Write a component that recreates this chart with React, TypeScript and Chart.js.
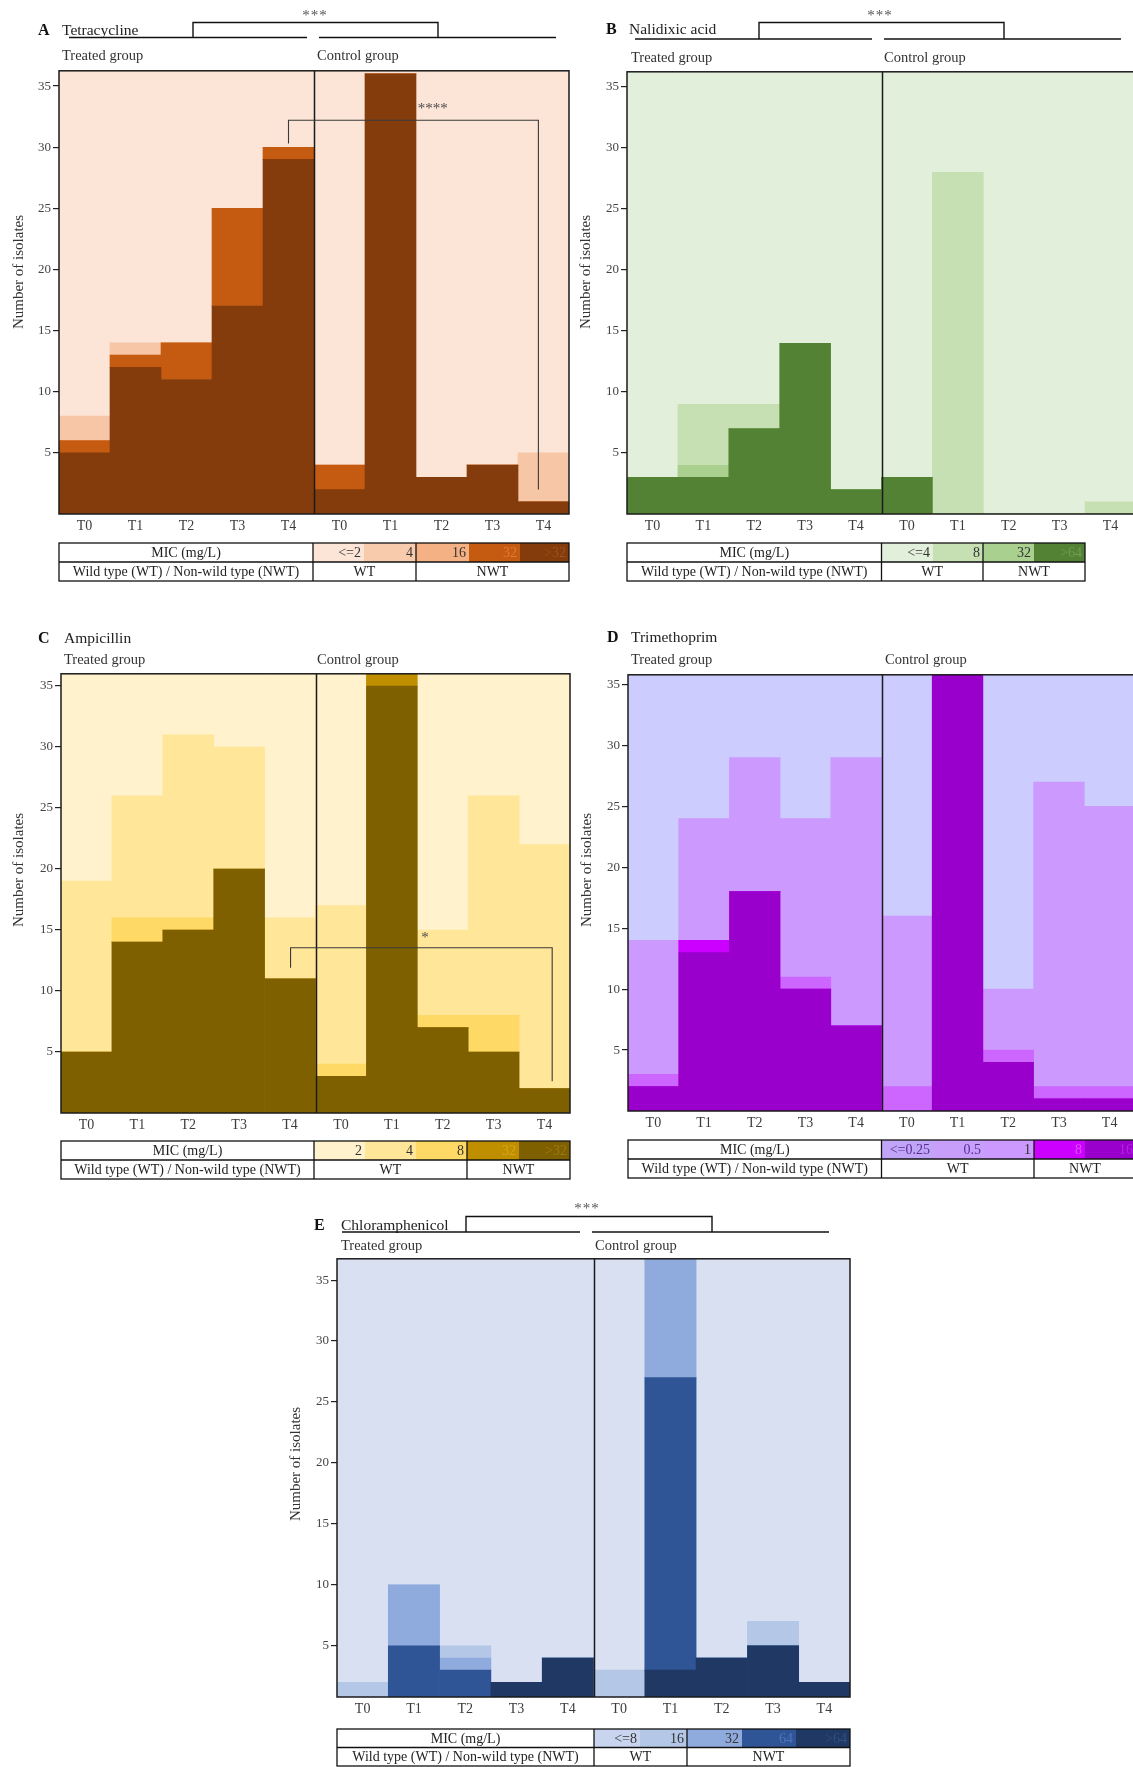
import React, { useEffect, useRef } from 'react';
import { Chart, registerables } from 'chart.js';

Chart.register(...registerables);

const FONT = '"Liberation Serif", "Times New Roman", serif';

// ---------- shared ----------
const timeLabels = ['T0', 'T1', 'T2', 'T3', 'T4', 'T0', 'T1', 'T2', 'T3', 'T4'];
const yTickValues = [5, 10, 15, 20, 25, 30, 35];

// ---------- A Tetracycline (stack order: bottom -> top) ----------
const tetGt32 = [5, 12, 11, 17, 29, 2, 36, 3, 4, 1];
const tet32 = [1, 1, 3, 8, 1, 2, 0, 0, 0, 0];
const tet16 = [0, 0, 0, 0, 0, 0, 0, 0, 0, 0];
const tet4 = [2, 1, 0, 0, 0, 0, 0, 0, 0, 4];
const tetLe2 = [28, 22, 22, 11, 6, 32, 0, 33, 32, 31];
const tetLegend = ['<=2', '4', '16', '32', '>32'];

// ---------- B Nalidixic acid ----------
const nalGt64 = [3, 3, 7, 14, 2, 3, 0, 0, 0, 0];
const nal32 = [0, 1, 0, 0, 0, 0, 0, 0, 0, 0];
const nal8 = [0, 5, 2, 0, 0, 0, 28, 0, 0, 1];
const nalLe4 = [33, 27, 27, 22, 34, 33, 8, 36, 36, 35];
const nalLegend = ['<=4', '8', '32', '>64'];

// ---------- C Ampicillin ----------
const ampGt32 = [5, 14, 15, 20, 11, 3, 35, 7, 5, 2];
const amp32 = [0, 0, 0, 0, 0, 0, 1, 0, 0, 0];
const amp8 = [0, 2, 1, 0, 0, 1, 0, 1, 3, 0];
const amp4 = [14, 10, 15, 10, 5, 13, 0, 7, 18, 20];
const amp2 = [17, 10, 5, 6, 20, 19, 0, 21, 10, 14];
const ampLegend = ['2', '4', '8', '32', '>32'];

// ---------- D Trimethoprim ----------
const tmp16 = [2, 13, 18, 10, 7, 0, 36, 4, 1, 1];
const tmp8 = [0, 1, 0, 0, 0, 0, 0, 0, 0, 0];
const tmp1 = [1, 0, 0, 1, 0, 2, 0, 1, 1, 1];
const tmp05 = [11, 10, 11, 13, 22, 14, 0, 5, 25, 23];
const tmpLe025 = [22, 12, 7, 12, 7, 20, 0, 26, 9, 11];
const tmpLegend = ['<=0.25', '0.5', '1', '8', '16'];

// ---------- E Chloramphenicol ----------
const chlGt64 = [0, 0, 0, 2, 4, 0, 3, 4, 5, 2];
const chl64 = [0, 5, 3, 0, 0, 0, 24, 0, 0, 0];
const chl32 = [0, 5, 1, 0, 0, 0, 10, 0, 0, 0];
const chl16 = [2, 0, 1, 0, 0, 3, 0, 0, 2, 0];
const chlLe8 = [34, 26, 31, 34, 32, 33, 0, 32, 29, 34];
const chlLegend = ['<=8', '16', '32', '64', '>64'];

// ---------- layout constants ----------
const AXW = 48;
const PADT = 4;
const PADR = 3;
const XAH = 28;

type Series = { label: string; data: number[]; color: string };
type Bracket = { from: number; to: number; y: number; fromDrop: number; toDrop: number; label: string; labelX: number; labelY: number };
type PanelCfg = {
  key: string;
  plot: { left: number; top: number; width: number; height: number };
  yMin: number;
  yMax: number;
  series: Series[];
  bg: string;
  bracket?: Bracket;
};

const panels: PanelCfg[] = [
  {
    key: 'A',
    plot: { left: 59, top: 65, width: 510, height: 449 },
    yMin: 0, yMax: 36.25, bg: '#fce4d6',
    series: [
      { label: '>32', data: tetGt32, color: '#843c0c' },
      { label: '32', data: tet32, color: '#c55a11' },
      { label: '16', data: tet16, color: '#f4b183' },
      { label: '4', data: tet4, color: '#f7c6a6' },
      { label: '<=2', data: tetLe2, color: '#fce4d6' },
    ],
    bracket: { from: 4.0, to: 8.9, y: 32.2, fromDrop: 30.3, toDrop: 2.0, label: '****', labelX: 6.83, labelY: 33.1 },
  },
  {
    key: 'B',
    plot: { left: 627, top: 66, width: 509, height: 448 },
    yMin: 0, yMax: 36.25, bg: '#e2efda',
    series: [
      { label: '>64', data: nalGt64, color: '#548235' },
      { label: '32', data: nal32, color: '#a9d08e' },
      { label: '8', data: nal8, color: '#c6e0b4' },
      { label: '<=4', data: nalLe4, color: '#e2efda' },
    ],
  },
  {
    key: 'C',
    plot: { left: 61, top: 668, width: 509, height: 445 },
    yMin: 0, yMax: 36, bg: '#fff2cc',
    series: [
      { label: '>32', data: ampGt32, color: '#7f6000' },
      { label: '32', data: amp32, color: '#bf8f00' },
      { label: '8', data: amp8, color: '#ffd966' },
      { label: '4', data: amp4, color: '#ffe699' },
      { label: '2', data: amp2, color: '#fff2cc' },
    ],
    bracket: { from: 4.01, to: 9.15, y: 13.55, fromDrop: 11.9, toDrop: 2.6, label: '*', labelX: 6.65, labelY: 14.3 },
  },
  {
    key: 'D',
    plot: { left: 628, top: 669, width: 507, height: 442 },
    yMin: 0, yMax: 35.8, bg: '#ccccff',
    series: [
      { label: '16', data: tmp16, color: '#9900cc' },
      { label: '8', data: tmp8, color: '#cc00ff' },
      { label: '1', data: tmp1, color: '#cc66ff' },
      { label: '0.5', data: tmp05, color: '#cc99ff' },
      { label: '<=0.25', data: tmpLe025, color: '#ccccff' },
    ],
  },
  {
    key: 'E',
    plot: { left: 337, top: 1253, width: 513, height: 444 },
    yMin: 0.8, yMax: 36.75, bg: '#d9e0f2',
    series: [
      { label: '>64', data: chlGt64, color: '#1f3864' },
      { label: '64', data: chl64, color: '#2f5597' },
      { label: '32', data: chl32, color: '#8faadc' },
      { label: '16', data: chl16, color: '#b4c7e7' },
      { label: '<=8', data: chlLe8, color: '#d9e0f2' },
    ],
  },
];

const makePlugin = (cfg: PanelCfg) => ({
  id: 'frame' + cfg.key,
  beforeDatasetsDraw(chart: any) {
    const { ctx, chartArea: a } = chart;
    ctx.save();
    ctx.fillStyle = cfg.bg;
    ctx.fillRect(a.left, a.top, a.right - a.left, a.bottom - a.top);
    ctx.restore();
  },
  afterDatasetsDraw(chart: any) {
    const { ctx, chartArea: a, scales } = chart;
    const x = scales.x;
    const y = scales.y;
    ctx.save();
    ctx.strokeStyle = '#1b1b1b';
    ctx.lineWidth = 1.5;
    ctx.strokeRect(a.left, a.top, a.right - a.left, a.bottom - a.top);
    const dx = Math.round((x.getPixelForValue(4) + x.getPixelForValue(5)) / 2) + 0.5;
    ctx.beginPath();
    ctx.moveTo(dx, a.top);
    ctx.lineTo(dx, a.bottom);
    ctx.stroke();
    const b = cfg.bracket;
    if (b) {
      const x1 = x.getPixelForValue(b.from);
      const x2 = x.getPixelForValue(b.to);
      ctx.strokeStyle = '#3a3a3a';
      ctx.lineWidth = 1.1;
      ctx.beginPath();
      ctx.moveTo(x1, y.getPixelForValue(b.fromDrop));
      ctx.lineTo(x1, y.getPixelForValue(b.y));
      ctx.lineTo(x2, y.getPixelForValue(b.y));
      ctx.lineTo(x2, y.getPixelForValue(b.toDrop));
      ctx.stroke();
      ctx.fillStyle = '#4a4a4a';
      ctx.font = `15px ${FONT}`;
      ctx.textAlign = 'center';
      ctx.textBaseline = 'middle';
      ctx.fillText(b.label, x.getPixelForValue(b.labelX), y.getPixelForValue(b.labelY));
    }
    ctx.restore();
  },
});

function PanelChart({ cfg }: { cfg: PanelCfg }) {
  const ref = useRef<HTMLCanvasElement>(null);
  const w = AXW + cfg.plot.width + PADR;
  const h = PADT + cfg.plot.height + XAH;
  useEffect(() => {
    const canvas = ref.current!;
    const chart = new Chart(canvas, {
      type: 'bar',
      data: {
        labels: timeLabels,
        datasets: cfg.series.map((s) => ({
          label: s.label,
          data: s.data,
          backgroundColor: s.color,
          borderWidth: 0,
          barPercentage: 1,
          categoryPercentage: 1,
          stack: 'mic',
        })),
      },
      options: {
        responsive: false,
        animation: false,
        devicePixelRatio: 1,
        layout: { padding: { top: PADT, right: PADR, left: 0, bottom: 0 } },
        plugins: { legend: { display: false }, tooltip: { enabled: false }, title: { display: false } },
        scales: {
          x: {
            stacked: true,
            grid: { display: false, drawTicks: false },
            border: { display: false },
            ticks: { color: '#3c3c3c', font: { family: FONT, size: 14 }, padding: 4, maxRotation: 0, autoSkip: false },
            afterFit: (s: any) => { s.height = XAH; },
          },
          y: {
            stacked: true,
            min: cfg.yMin,
            max: cfg.yMax,
            afterBuildTicks: (s: any) => { s.ticks = yTickValues.map((v) => ({ value: v })); },
            grid: { display: true, drawOnChartArea: false, drawTicks: true, tickLength: 6, color: '#222', lineWidth: 1.2 },
            border: { display: false },
            ticks: { color: '#444', font: { family: FONT, size: 13 }, padding: 2 },
            afterFit: (s: any) => { s.width = AXW; },
          },
        },
      },
      plugins: [makePlugin(cfg)],
    } as any);
    return () => chart.destroy();
  }, []);
  return (
    <div style={{ position: 'absolute', left: cfg.plot.left - AXW, top: cfg.plot.top - PADT, width: w, height: h }}>
      <canvas ref={ref} width={w} height={h} style={{ width: w, height: h, display: 'block' }} />
    </div>
  );
}

// ---------- tables ----------
type TableCfg = {
  left: number; split: number; top: number; rowH: number;
  edges: number[]; wtEdge: number; labels: string[]; fills: string[]; textColors: string[];
};

const tables: TableCfg[] = [
  { left: 59, split: 313, top: 543, rowH: 19, edges: [313, 364, 416, 469, 520, 569], wtEdge: 416, labels: tetLegend,
    fills: ['#fce4d6', '#f8cbad', '#f4b183', '#c55a11', '#843c0c'], textColors: ['#333', '#333', '#333', '#dd7a36', '#a0501c'] },
  { left: 627, split: 881.5, top: 543, rowH: 19, edges: [881.5, 933, 983, 1034, 1085], wtEdge: 983, labels: nalLegend,
    fills: ['#e2efda', '#c6e0b4', '#a9d08e', '#548235'], textColors: ['#333', '#333', '#333', '#6e9e4f'] },
  { left: 61, split: 314, top: 1141, rowH: 19, edges: [314, 365, 416, 467, 519, 570], wtEdge: 467, labels: ampLegend,
    fills: ['#fff2cc', '#ffe699', '#ffd966', '#bf8f00', '#7f6000'], textColors: ['#333', '#333', '#333', '#d9a520', '#9b7a10'] },
  { left: 628, split: 881.5, top: 1140, rowH: 19, edges: [881.5, 933, 984, 1034, 1085, 1136], wtEdge: 1034, labels: tmpLegend,
    fills: ['#c0a4f5', '#c79ffb', '#cc99ff', '#cc00ff', '#9900cc'], textColors: ['#5b2d99', '#5b2d99', '#333', '#e24dff', '#b323e6'] },
  { left: 337, split: 594, top: 1729, rowH: 18.5, edges: [594, 640, 687, 742, 796, 850], wtEdge: 687, labels: chlLegend,
    fills: ['#c9d5ef', '#b4c7e7', '#8faadc', '#2f5597', '#1f3864'], textColors: ['#333', '#333', '#333', '#4f74bb', '#33507f'] },
];

function MicTable({ t }: { t: TableCfg }) {
  const right = t.edges[t.edges.length - 1];
  const r1 = t.top + t.rowH / 2;
  const r2 = t.top + t.rowH * 1.5;
  const fs = 14;
  return (
    <g fontFamily={FONT} fontSize={fs}>
      {t.labels.map((lab, i) => (
        <g key={i}>
          <rect x={t.edges[i]} y={t.top} width={t.edges[i + 1] - t.edges[i]} height={t.rowH} fill={t.fills[i]} />
          <text x={t.edges[i + 1] - 3} y={r1} textAnchor="end" dominantBaseline="central" fill={t.textColors[i]}>{lab}</text>
        </g>
      ))}
      <text x={(t.left + t.split) / 2} y={r1} textAnchor="middle" dominantBaseline="central" fill="#222">MIC (mg/L)</text>
      <text x={(t.left + t.split) / 2} y={r2} textAnchor="middle" dominantBaseline="central" fill="#222">Wild type (WT) / Non-wild type (NWT)</text>
      <text x={(t.split + t.wtEdge) / 2} y={r2} textAnchor="middle" dominantBaseline="central" fill="#222">WT</text>
      <text x={(t.wtEdge + right) / 2} y={r2} textAnchor="middle" dominantBaseline="central" fill="#222">NWT</text>
      <g stroke="#111" strokeWidth={1.3} fill="none">
        <rect x={t.left} y={t.top} width={right - t.left} height={t.rowH * 2} />
        <line x1={t.left} y1={t.top + t.rowH} x2={right} y2={t.top + t.rowH} />
        <line x1={t.split} y1={t.top} x2={t.split} y2={t.top + t.rowH * 2} />
        <line x1={t.wtEdge} y1={t.top} x2={t.wtEdge} y2={t.top + t.rowH * 2} />
      </g>
    </g>
  );
}

// ---------- headings ----------
type Heading = {
  letter: string; letterX: number; title: string; titleX: number; y: number;
  treatedX: number; controlX: number; groupY: number;
  axisTitleX: number; axisTitleY: number;
  top?: { boxX1: number; boxX2: number; boxTop: number; base: number; l1: [number, number]; l2: [number, number]; starX: number; starY: number };
};

const headings: Heading[] = [
  { letter: 'A', letterX: 38, title: 'Tetracycline', titleX: 62, y: 29, treatedX: 62, controlX: 317, groupY: 55,
    axisTitleX: 18, axisTitleY: 272,
    top: { boxX1: 193, boxX2: 438, boxTop: 22.5, base: 37.5, l1: [69, 307], l2: [319, 556], starX: 315, starY: 15 } },
  { letter: 'B', letterX: 606, title: 'Nalidixic acid', titleX: 629, y: 28, treatedX: 631, controlX: 884, groupY: 57,
    axisTitleX: 585, axisTitleY: 272,
    top: { boxX1: 759, boxX2: 1004, boxTop: 22.5, base: 39, l1: [635, 872], l2: [884, 1121], starX: 880, starY: 15 } },
  { letter: 'C', letterX: 38, title: 'Ampicillin', titleX: 64, y: 637, treatedX: 64, controlX: 317, groupY: 659,
    axisTitleX: 18, axisTitleY: 870 },
  { letter: 'D', letterX: 607, title: 'Trimethoprim', titleX: 631, y: 636, treatedX: 631, controlX: 885, groupY: 659,
    axisTitleX: 586, axisTitleY: 870 },
  { letter: 'E', letterX: 314, title: 'Chloramphenicol', titleX: 341, y: 1224, treatedX: 341, controlX: 595, groupY: 1245,
    axisTitleX: 295, axisTitleY: 1464,
    top: { boxX1: 466, boxX2: 712, boxTop: 1216.5, base: 1232, l1: [342, 580], l2: [592, 829], starX: 587, starY: 1208 } },
];

function HeadingSvg({ h }: { h: Heading }) {
  return (
    <g fontFamily={FONT}>
      <text x={h.letterX} y={h.y} dominantBaseline="central" fontSize={16} fontWeight="bold" fill="#111">{h.letter}</text>
      <text x={h.titleX} y={h.y} dominantBaseline="central" fontSize={15.5} fill="#222">{h.title}</text>
      <text x={h.treatedX} y={h.groupY} dominantBaseline="central" fontSize={14.5} fill="#333">Treated group</text>
      <text x={h.controlX} y={h.groupY} dominantBaseline="central" fontSize={14.5} fill="#333">Control group</text>
      <text x={h.axisTitleX} y={h.axisTitleY} textAnchor="middle" dominantBaseline="central" fontSize={15} fill="#333"
        transform={`rotate(-90 ${h.axisTitleX} ${h.axisTitleY})`}>Number of isolates</text>
      {h.top && (
        <g>
          <g stroke="#111" strokeWidth={1.4} fill="none">
            <polyline points={`${h.top.boxX1},${h.top.base} ${h.top.boxX1},${h.top.boxTop} ${h.top.boxX2},${h.top.boxTop} ${h.top.boxX2},${h.top.base}`} />
            <line x1={h.top.l1[0]} y1={h.top.base} x2={h.top.l1[1]} y2={h.top.base} />
            <line x1={h.top.l2[0]} y1={h.top.base} x2={h.top.l2[1]} y2={h.top.base} />
          </g>
          <text x={h.top.starX} y={h.top.starY} textAnchor="middle" dominantBaseline="central" fontSize={15} fill="#555" letterSpacing={1}>***</text>
        </g>
      )}
    </g>
  );
}

export default function App() {
  return (
    <div style={{ position: 'absolute', left: 0, top: 0, width: 1133, height: 1767, overflow: 'hidden', background: '#fff' }}>
      {panels.map((p) => <PanelChart key={p.key} cfg={p} />)}
      <svg width={1133} height={1767} style={{ position: 'absolute', left: 0, top: 0, pointerEvents: 'none' }}>
        {headings.map((h) => <HeadingSvg key={h.letter} h={h} />)}
        {tables.map((t, i) => <MicTable key={i} t={t} />)}
      </svg>
    </div>
  );
}
